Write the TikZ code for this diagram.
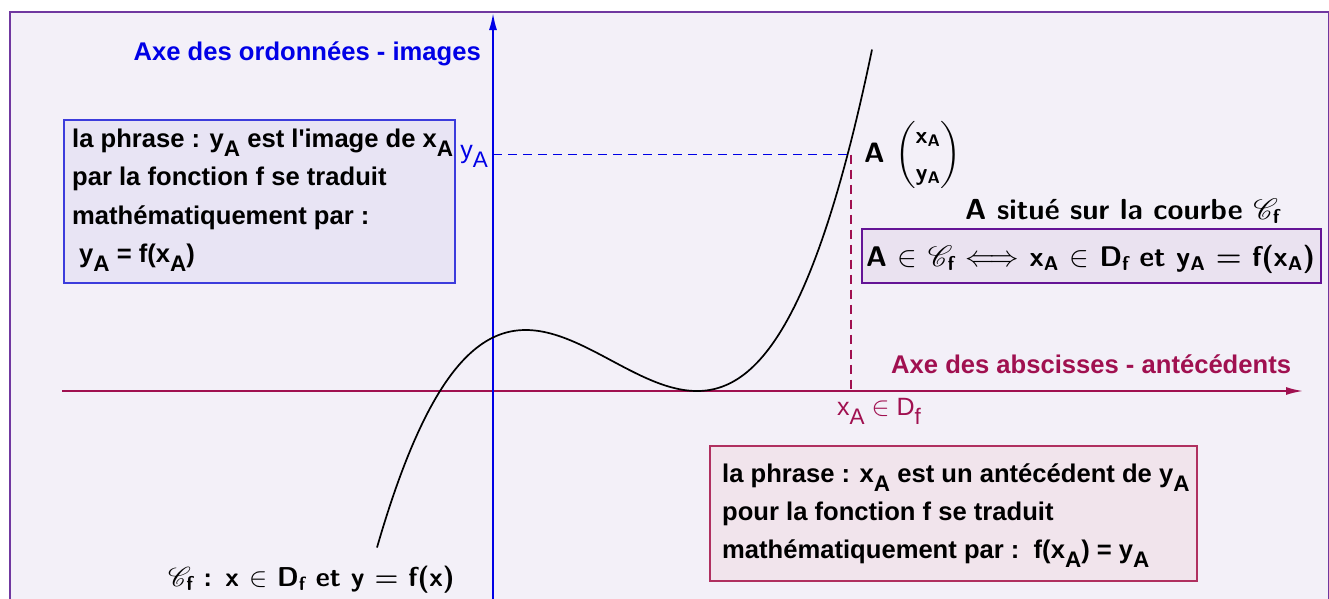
\RequirePackage{fix-cm}
\documentclass[tikz,border=0pt]{standalone}
\usepackage{amsmath,amssymb}
\DeclareFontFamily{U}{rsfs}{\skewchar\font127 }
\DeclareFontShape{U}{rsfs}{m}{n}{<-6> rsfs5 <6-8> rsfs7 <8-> rsfs10}{}
\usepackage{mathrsfs}
\usepackage{fontspec}
\newfontfamily\arial{Liberation Sans}
\usetikzlibrary{arrows.meta}
\definecolor{bgc}{RGB}{243,240,248}
\definecolor{framec}{RGB}{112,56,160}
\definecolor{axb}{RGB}{0,0,230}
\definecolor{axr}{RGB}{160,16,80}
\definecolor{boxaf}{RGB}{232,228,244}
\definecolor{boxad}{RGB}{60,60,220}
\definecolor{boxbf}{RGB}{234,226,240}
\definecolor{boxbd}{RGB}{100,20,150}
\definecolor{boxcf}{RGB}{241,228,236}
\definecolor{boxcd}{RGB}{176,48,96}
\newcommand{\lsub}[1]{\raisebox{-0.36em}{\fontsize{22.5}{22.5}\selectfont #1}}
\newcommand{\sub}[1]{\ensuremath{_{\text{#1}}}}
\newcommand{\Cf}{\ensuremath{\mathscr{C}_{\text{\fontsize{20}{20}\selectfont f}}}}
\newcommand{\beq}{\mbox{\boldmath$=$}}
\newcommand{\mbig}[1]{{\fontsize{29.5}{30}\selectfont #1}}
\tikzset{
  arialtxt/.style={font=\arial\bfseries\fontsize{25.6}{30}\selectfont, anchor=base west, inner sep=0pt},
  cmtxt/.style={font=\sffamily\bfseries\fontsize{29}{34}\selectfont, inner sep=0pt},
  boxbase/.style={draw, line width=1.5pt, inner sep=0pt, anchor=north west},
  axtip/.style={-{Latex[length=17pt,width=8pt]}},
}
\begin{document}
\begin{tikzpicture}[x=1pt,y=-1pt]
\useasboundingbox (0,0) rectangle (1329,598);
\fill[white] (0,0) rectangle (1329,598);
\draw[framec, line width=2.5pt, fill=bgc] (10,12) rectangle (1329,640);

% boxes
\node[boxbase, draw=boxad, fill=boxaf, minimum width=391pt, minimum height=163pt] (b1) at (63,119) {};
\node[boxbase, draw=boxbd, fill=boxbf, minimum width=459pt, minimum height=54pt] (b2) at (861,228) {};
\node[boxbase, draw=boxcd, fill=boxcf, minimum width=487pt, minimum height=135pt] (b3) at (709,445) {};

% axes
\coordinate (xs) at (62,391);
\coordinate (xe) at (1303,391);
\coordinate (ys) at (493,600);
\coordinate (ye) at (493,13);
\draw[axr, line width=1.8pt, axtip] (xs) -- (xe);
\draw[axb, line width=1.8pt, axtip] (ys) -- (ye);

% curve
\draw[line width=1.7pt] plot[domain=377:872, samples=160]
  (\x,{391-(24.26+0.9*max(0,\x/100-7))*(\x/100-4.4)*(\x/100-6.97)*(\x/100-6.97)});

\coordinate (A) at (851,154.5);
\coordinate (Ay) at (493,154.5);
\coordinate (Ax) at (851,391);
\draw[axb, line width=1.3pt, dash pattern=on 9pt off 6pt] (Ay) -- (A);
\draw[axr, line width=1.3pt, dash pattern=on 9pt off 6pt] (A) -- (Ax);

% axis labels
\node[font=\arial\bfseries\fontsize{25.6}{30}\selectfont, text=axb, anchor=base east, inner sep=0pt] (ylab) at (481,60.7) {Axe des ordonnées - images};
\node[font=\arial\bfseries\fontsize{25.6}{30}\selectfont, text=axr, anchor=base west, inner sep=0pt] (xlab) at (891,373.3) {Axe des abscisses - antécédents};
\node[font=\arial\fontsize{25}{30}\selectfont, text=axb, anchor=base east, inner sep=0pt] (yA) at (488,158) {y\lsub{A}};
\node[font=\arial\fontsize{25}{30}\selectfont, text=axr, anchor=base west, inner sep=0pt] (xA) at (837,415) {x\lsub{A} {\fontsize{27}{27}\selectfont$\in$} D\lsub{f}};

% box 1 text
\node[arialtxt] (t11) at (72,147) {la phrase : y\lsub{A} est l'image de x\lsub{A}};
\node[arialtxt] (t12) at (72,185.5) {par la fonction f se traduit};
\node[arialtxt] (t13) at (72,224) {mathématiquement par :};
\node[arialtxt] (t14) at (79,262) {y\lsub{A} = f(x\lsub{A})};

% box 3 text
\node[arialtxt] (t31) at (722,482) {la phrase : x\lsub{A} est un antécédent de y\lsub{A}};
\node[arialtxt] (t32) at (722,520) {pour la fonction f se traduit};
\node[arialtxt] (t33) at (722,558) {mathématiquement par :\ \ f(x\lsub{A}) = y\lsub{A}};

% point A
\node[cmtxt, font=\sffamily\bfseries\fontsize{28}{33}\selectfont, anchor=west] (Alab) at (864,155)
  {A $\left(\begin{matrix}\text{\fontsize{24}{28}\selectfont x\sub{A}}\\[4pt] \text{\fontsize{24}{28}\selectfont y\sub{A}}\end{matrix}\right)$};

% A on curve
\node[cmtxt, anchor=base west] (situe) at (965,219) {A situé sur la courbe \mbig{\Cf}};
\node[cmtxt, font=\sffamily\bfseries\fontsize{28.4}{34}\selectfont, anchor=base west] (equiv) at (866,266)
  {A \mbig{$\in$ \Cf} \mbig{$\Longleftrightarrow$} x\sub{A} \mbig{$\in$} D\sub{f} et y\sub{A} \mbig{\beq} f(x\sub{A})};

% curve label
\node[cmtxt, font=\sffamily\bfseries\fontsize{27.3}{32}\selectfont, anchor=base west] (cf) at (168,586)
  {\Cf{} : x $\in$ D\sub{f} et y \beq{} f(x)};
\end{tikzpicture}
\end{document}
